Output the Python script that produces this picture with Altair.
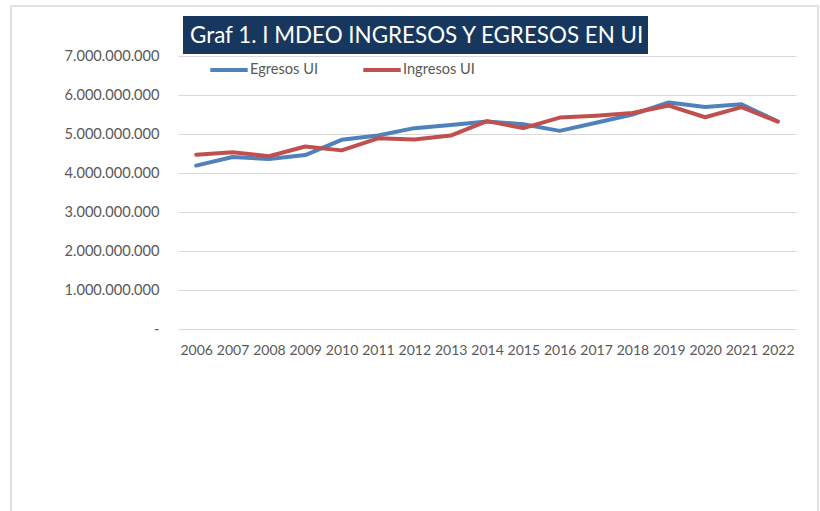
import altair as alt
import pandas as pd

years = [str(y) for y in range(2006, 2023)]
egresos = [4.19, 4.41, 4.36, 4.46, 4.85, 4.96, 5.15, 5.23, 5.32, 5.25, 5.08,
           5.29, 5.50, 5.81, 5.69, 5.76, 5.32]
ingresos = [4.47, 4.53, 4.43, 4.68, 4.58, 4.89, 4.86, 4.96, 5.33, 5.15, 5.42,
            5.47, 5.54, 5.73, 5.43, 5.69, 5.32]
series_names = ["Egresos UI", "Ingresos UI"]
series_colors = ["#4F81BD", "#C0504D"]
y_ticks = [0, 1e9, 2e9, 3e9, 4e9, 5e9, 6e9, 7e9]
title_text = "Graf 1. I MDEO INGRESOS Y EGRESOS EN UI"

rows = []
for name, vals in zip(series_names, [egresos, ingresos]):
    for yr, v in zip(years, vals):
        rows.append({"Año": yr, "Serie": name, "Valor": v * 1e9})
df = pd.DataFrame(rows)
one = pd.DataFrame({"k": [0]})

FONT = "Lato"
W, H = 618, 273

lines = alt.Chart(df).mark_line(strokeWidth=4, strokeCap="round", strokeJoin="round").encode(
    x=alt.X("Año:O", sort=years,
            scale=alt.Scale(type="point", padding=0.5),
            axis=alt.Axis(title=None, labelAngle=0, domain=False, ticks=False,
                          labelPadding=14, labelFontSize=14, labelColor="#595959",
                          labelFont=FONT, grid=False)),
    y=alt.Y("Valor:Q", scale=alt.Scale(domain=[0, 7e9], nice=False),
            axis=alt.Axis(title=None, values=y_ticks, domain=False, ticks=False,
                          labelPadding=19, labelFontSize=14.6, labelColor="#595959",
                          labelFont=FONT, gridColor="#D9D9D9", gridWidth=1.2,
                          labelExpr="datum.value == 0 ? '-\u00a0\u00a0\u00a0' : replace(format(datum.value, ',.0f'), regexp(',', 'g'), '.')")),
    color=alt.Color("Serie:N", sort=series_names,
                    scale=alt.Scale(domain=series_names, range=series_colors),
                    legend=alt.Legend(title=None, orient="none", direction="horizontal",
                                      legendX=30, legendY=-7, symbolType="stroke",
                                      symbolSize=1400, symbolStrokeWidth=4,
                                      labelFont=FONT, labelFontSize=14.6,
                                      labelColor="#595959", columnPadding=37,
                                      labelOffset=0)),
)

border = alt.Chart(one).mark_rect(fill=None, stroke="#D9D9D9", strokeWidth=1.5).encode(
    x=alt.value(-167), x2=alt.value(640), y=alt.value(-50), y2=alt.value(470)
)
title_box = alt.Chart(one).mark_rect(fill="#17375E").encode(
    x=alt.value(5), x2=alt.value(470), y=alt.value(-40), y2=alt.value(-2)
)
title_label = alt.Chart(one).mark_text(
    align="left", baseline="middle", color="white", font=FONT, fontSize=22.4
).encode(x=alt.value(12), y=alt.value(-20), text=alt.value(title_text))

chart = alt.layer(border, title_box, title_label, lines).properties(
    width=W, height=H,
    padding={"left": 178, "top": 56, "right": 820 - 178 - W, "bottom": 511 - 56 - H},
    autosize=alt.AutoSizeParams(type="none"),
    background="white",
).configure_view(stroke="transparent", strokeWidth=0)

chart.save("out.html", embed_options={"renderer": "svg", "actions": False})
